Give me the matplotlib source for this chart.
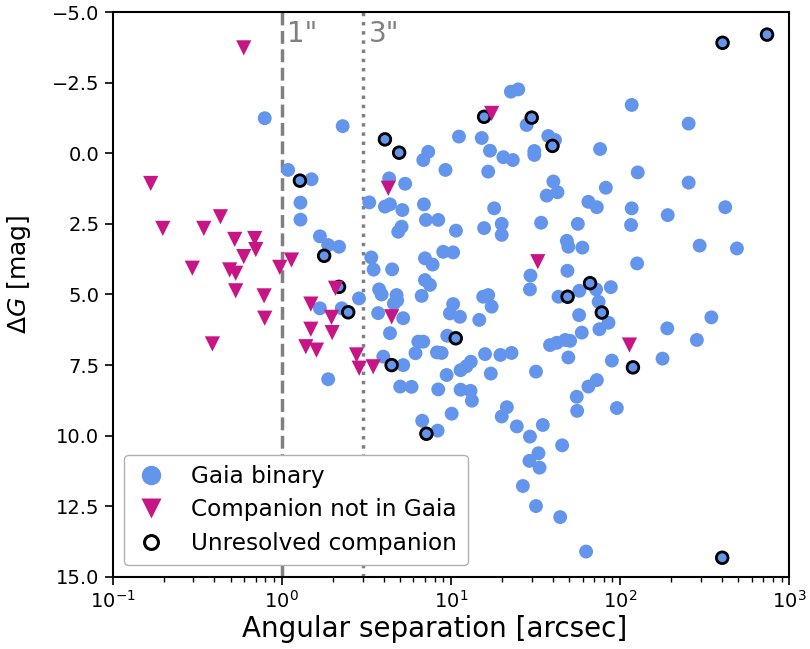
import matplotlib
matplotlib.use("Agg")
import matplotlib.pyplot as plt
from matplotlib.lines import Line2D

# Gaia binary: angular separation [arcsec], Delta G [mag]
gaia_sep = [0.793, 2.29, 1.09, 1.28, 1.50, 1.29, 1.29, 1.68, 1.88, 2.18, 1.78, 2.18, 1.68, 2.26, 2.47, 2.86, 1.88,
            4.07, 4.94, 7.34, 6.86, 9.28, 11.15, 15.2, 17.0, 20.4, 23.2, 31.1, 31.1, 16.6, 15.7, 22.6, 25.0, 28.0,
            30.0, 37.6, 41.2, 39.8, 76.1, 117, 254, 403, 738, 127, 82.3, 254, 64.9, 72.8, 117, 116, 191, 418,
            56.2, 48.4, 49.4, 59.8, 295, 490, 126, 48.8, 88.1, 66.4, 57.4, 72.1, 48.9, 43.2, 74.6, 77.9, 85.3,
            75.4, 57.2, 59.3, 38.5, 42.2, 47.3, 50.6, 49.4, 31.8, 89.3, 119, 178, 190, 284, 346, 72.8, 64.9,
            55.4, 55.7, 95.6, 34.9, 29.3, 45.4, 32.9, 29.1, 33.4, 26.6, 31.8, 44.2, 62.9, 401, 19.95, 21.4,
            24.5, 10.1, 6.76, 7.16, 8.34, 11.4, 12.35, 13.1, 11.4, 13.05, 13.3, 15.9, 17.2, 19.6, 22.8, 9.51,
            10.67, 6.41, 6.86, 6.17, 8.26, 8.81, 3.98, 4.46, 5.22, 5.01, 5.85, 8.41, 9.43, 3.71, 4.36, 5.22,
            10.3, 9.86, 11.3, 14.7, 15.5, 16.6, 17.4, 6.71, 7.02, 7.51, 3.76, 3.89, 4.77, 4.81, 4.60, 4.49,
            3.38, 3.49, 9.0, 10.3, 7.02, 7.79, 5.11, 4.88, 7.11, 8.41, 6.92, 5.16, 4.07, 4.36, 3.29, 4.31,
            5.36, 10.7, 15.7, 18.0, 19.95, 19.95, 34.1, 40.3, 42.6, 36.8, 29.5, 29.3]
gaia_dmag = [-1.24, -0.96, 0.59, 0.97, 0.92, 1.75, 2.35, 2.94, 3.25, 3.31, 3.63, 4.73, 5.49, 5.49, 5.63, 5.14, 8.00,
             -0.49, -0.02, -0.05, 0.24, 0.59, -0.59, -0.54, -0.09, 0.14, 0.24, -0.08, 0.06, 0.65, -1.29, -2.18,
             -2.26, -1.00, -1.26, -0.61, -0.47, -0.26, -0.15, -1.71, -1.05, -3.91, -4.20, 0.68, 1.22, 1.04, 1.72,
             1.91, 1.95, 2.54, 2.19, 1.91, 2.50, 3.10, 3.31, 3.34, 3.27, 3.37, 3.90, 4.16, 4.74, 4.60, 4.87, 4.82,
             5.08, 5.08, 5.26, 5.64, 6.00, 6.23, 5.73, 6.35, 6.79, 6.71, 6.61, 6.64, 7.23, 7.73, 7.34, 7.58, 7.27,
             6.20, 6.61, 5.81, 8.03, 8.26, 8.62, 9.12, 9.02, 9.62, 10.03, 10.34, 10.62, 10.89, 11.13, 11.78, 12.49,
             12.88, 14.10, 14.32, 9.32, 8.99, 9.67, 9.22, 9.47, 9.93, 9.82, 7.68, 7.54, 7.38, 8.37, 8.41, 8.76,
             7.11, 7.80, 7.14, 7.07, 6.46, 6.55, 6.67, 6.67, 7.08, 7.05, 7.07, 7.20, 7.50, 7.50, 8.26, 8.27, 8.36,
             7.85, 5.66, 6.37, 5.84, 5.34, 5.67, 5.79, 5.90, 5.08, 5.02, 5.43, 5.05, 4.49, 4.66, 4.82, 5.00, 5.02,
             5.21, 5.32, 4.11, 3.69, 4.12, 3.49, 3.51, 3.72, 3.94, 2.60, 2.78, 2.36, 2.36, 1.81, 2.01, 1.89, 1.81,
             1.74, 0.89, 1.08, 2.74, 2.65, 1.95, 2.50, 2.89, 2.46, 1.00, 1.38, 1.50, 4.33, 4.82]

# Companion not in Gaia
nogaia_sep = [0.596, 0.168, 0.198, 0.346, 0.434, 0.527, 0.692, 0.702, 0.596, 0.296, 0.492, 0.534, 0.973, 1.141,
              0.534, 0.786, 0.793, 0.389, 1.485, 1.485, 1.387, 1.604, 1.968, 1.985, 2.078, 2.767, 2.867, 3.47,
              4.46, 4.26, 17.4, 32.6, 113.5]
nogaia_dmag = [-3.73, 1.07, 2.66, 2.66, 2.25, 3.05, 3.02, 3.41, 3.66, 4.07, 4.13, 4.25, 4.04, 3.78, 4.87, 5.05,
               5.84, 6.75, 5.34, 6.23, 6.85, 6.97, 5.81, 6.35, 4.78, 7.14, 7.61, 7.56, 5.79, 1.24, -1.41, 3.84,
               6.79]

# Unresolved companion
unres_sep = [1.28, 1.78, 2.18, 2.47, 4.07, 4.94, 15.7, 30.0, 39.8, 403, 738, 66.4, 48.9, 77.9, 119, 401,
             7.16, 10.67, 4.46]
unres_dmag = [0.97, 3.63, 4.73, 5.63, -0.49, -0.02, -1.29, -1.26, -0.26, -3.91, -4.20, 4.60, 5.08, 5.64, 7.58,
              14.32, 9.93, 6.55, 7.50]

labels = ["Gaia binary", "Companion not in Gaia", "Unresolved companion"]

blue = "#6495ED"
magenta = "#C71585"

fig = plt.figure(figsize=(8.1, 6.49), dpi=100)
ax = fig.add_axes([0.139, 0.111, 0.8355, 0.8705])

ax.axvline(1, color="gray", ls="--", lw=2.5, zorder=1)
ax.axvline(3, color="gray", ls=":", lw=2.5, zorder=1)
ax.text(1.08, -4.72, '1"', color="gray", fontsize=20, va="top", ha="left")
ax.text(3.25, -4.72, '3"', color="gray", fontsize=20, va="top", ha="left")

ax.scatter(gaia_sep, gaia_dmag, s=100, color=blue, edgecolors="none", zorder=2)
ax.scatter(unres_sep, unres_dmag, s=70, facecolors="none", edgecolors="black", linewidths=2, zorder=3)
ax.scatter(nogaia_sep, nogaia_dmag, s=120, marker="v", color=magenta, edgecolors="none", zorder=4)

ax.set_xscale("log")
ax.set_xlim(0.1, 1000)
ax.set_ylim(15, -5)
ax.set_yticks([-5, -2.5, 0, 2.5, 5, 7.5, 10, 12.5, 15])
ax.set_yticklabels(["\u22125.0", "\u22122.5", "0.0", "2.5", "5.0", "7.5", "10.0", "12.5", "15.0"])
ax.tick_params(axis="both", which="major", labelsize=14, length=6, width=1.2)
ax.tick_params(axis="both", which="minor", length=3.5, width=1)
for sp in ax.spines.values():
    sp.set_linewidth(1.5)

ax.set_xlabel("Angular separation [arcsec]", fontsize=20)
ax.set_ylabel(r"$\Delta G$ [mag]", fontsize=18)
ax.xaxis.set_label_coords(0.476, -0.068)
ax.yaxis.set_label_coords(-0.118, 0.535)

handles = [
    Line2D([], [], ls="none", marker="o", markersize=14, color=blue, markeredgecolor="none"),
    Line2D([], [], ls="none", marker="v", markersize=14, color=magenta, markeredgecolor="none"),
    Line2D([], [], ls="none", marker="o", markersize=10, markerfacecolor="none", markeredgecolor="black",
           markeredgewidth=2.2),
]
ax.legend(handles, labels, loc="lower left", fontsize=16.7, framealpha=1, edgecolor="#b0b0b0",
          handlelength=1.4, handletextpad=1.05, borderpad=0.45, labelspacing=0.45)

fig.savefig("out.png", dpi=100)
